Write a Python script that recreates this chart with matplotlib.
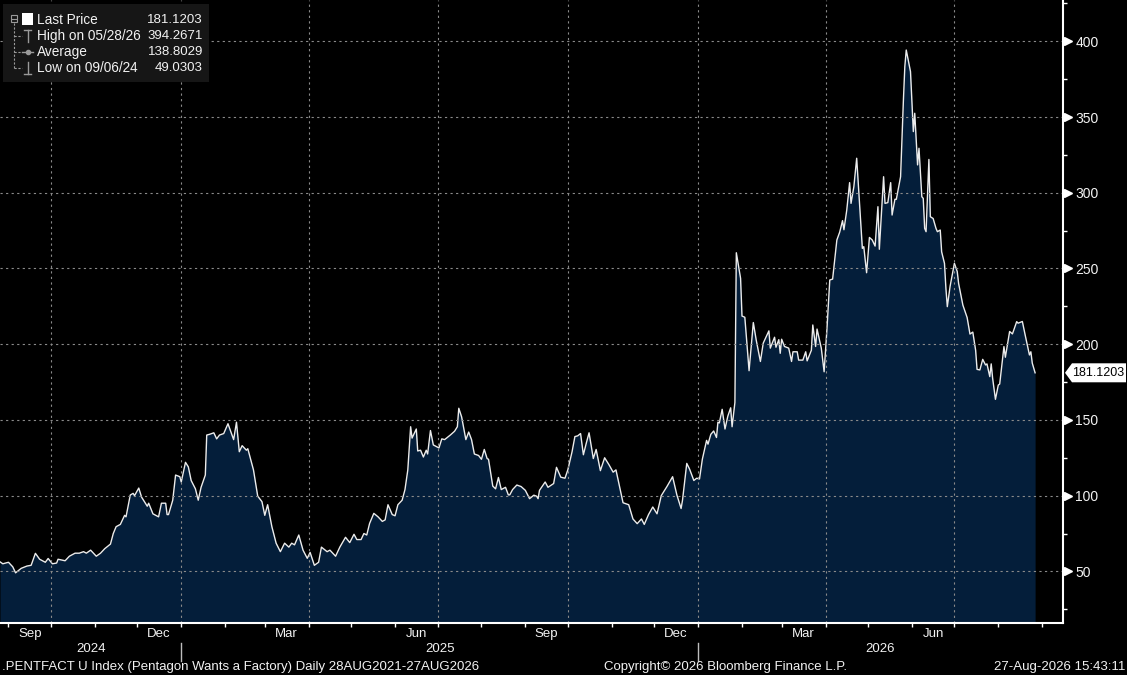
import matplotlib
matplotlib.use('Agg')
import matplotlib.pyplot as plt
import matplotlib.dates as mdates
import matplotlib.transforms as mtransforms
from matplotlib.lines import Line2D
from matplotlib.patches import Rectangle, Polygon
import numpy as np
import pandas as pd

plt.rcParams['font.family'] = ['Liberation Sans', 'DejaVu Sans']

# Data (days counted from 2024-08-26)
start = pd.Timestamp('2024-08-26')
day = [0, 2, 6, 9, 11, 15, 19, 22, 25, 28,
       32, 34, 37, 40, 41, 46, 49, 53, 56, 59,
       61, 64, 68, 71, 74, 78, 80, 82, 85, 88,
       89, 92, 94, 95, 98, 100, 104, 105, 108, 112,
       114, 117, 118, 119, 122, 124, 127, 128, 131, 133,
       135, 138, 140, 142, 145, 146, 148, 151, 153, 155,
       158, 161, 165, 167, 169, 171, 174, 175, 179, 182,
       185, 187, 189, 192, 195, 198, 201, 204, 206, 208,
       211, 214, 217, 219, 222, 225, 227, 231, 233, 237,
       240, 244, 247, 250, 252, 255, 257, 259, 261, 264,
       267, 270, 272, 274, 277, 279, 281, 284, 286, 288,
       290, 291, 294, 295, 297, 299, 301, 302, 304, 306,
       310, 312, 314, 318, 321, 323, 324, 326, 329, 331,
       333, 335, 338, 340, 342, 344, 345, 348, 350, 352,
       354, 357, 359, 360, 362, 365, 368, 371, 374, 377,
       379, 380, 381, 385, 387, 391, 393, 396, 399, 401,
       404, 406, 408, 410, 412, 414, 416, 419, 421, 424,
       427, 430, 433, 435, 438, 440, 444, 447, 450, 453,
       455, 458, 461, 464, 467, 471, 475, 478, 481, 482,
       485, 487, 490, 492, 494, 496, 499, 500, 502, 504,
       506, 507, 508, 510, 512, 514, 516, 517, 519, 520,
       523, 524, 526, 529, 532, 534, 537, 539, 543, 544,
       547, 548, 550, 551, 552, 554, 557, 559, 560, 563,
       564, 567, 569, 570, 573, 574, 576, 577, 580, 582,
       584, 586, 588, 591, 593, 595, 596, 598, 600, 601,
       603, 605, 607, 609, 610, 612, 614, 616, 618, 620,
       621, 624, 625, 627, 629, 630, 632, 633, 636, 638,
       639, 640, 643, 645, 646, 648, 649, 651, 652, 653,
       654, 656, 657, 659, 661, 662, 664, 665, 667, 668,
       669, 671, 674, 676, 677, 680, 683, 685, 687, 689,
       690, 692, 694, 696, 697, 699, 700, 701, 703, 705,
       706, 709, 710, 713, 715, 718, 719, 722, 724, 727,
       728, 729, 731]
price = [56.3, 55.0, 56.0, 53.0, 49.0303, 52.0, 53.5, 54.0, 61.9, 58.0,
         56.0, 58.5, 55.0, 55.5, 58.0, 57.0, 60.0, 62.0, 62.0, 63.0,
         62.0, 64.0, 60.0, 62.0, 65.0, 68.0, 75.0, 79.5, 81.0, 87.0,
         86.0, 100.4, 101.5, 100.0, 105.0, 99.0, 93.0, 95.0, 88.0, 86.0,
         95.0, 95.0, 87.5, 87.5, 97.0, 113.6, 112.5, 109.0, 122.0, 119.0,
         110.0, 104.5, 97.0, 105.5, 113.6, 140.0, 140.5, 141.5, 137.5, 140.0,
         141.0, 147.5, 137.0, 148.5, 129.0, 133.0, 130.0, 131.0, 117.0, 99.7,
         96.0, 87.0, 94.0, 79.5, 68.6, 63.0, 68.6, 66.0, 68.6, 67.5,
         74.0, 64.0, 58.6, 62.5, 54.0, 56.0, 66.0, 63.0, 64.0, 60.0,
         66.0, 72.5, 69.0, 74.5, 71.0, 71.0, 75.0, 74.0, 81.6, 88.3,
         86.0, 83.0, 84.0, 94.0, 87.5, 86.7, 94.0, 97.0, 104.0, 117.0,
         145.5, 138.0, 144.0, 129.5, 130.0, 125.5, 130.0, 127.5, 143.0, 133.5,
         131.5, 137.5, 137.0, 140.0, 142.5, 145.5, 157.7, 152.0, 137.0, 142.0,
         137.0, 127.5, 126.5, 124.0, 130.5, 124.5, 124.0, 106.3, 104.5, 112.0,
         104.0, 105.5, 100.5, 100.5, 104.0, 107.0, 106.0, 103.5, 98.0, 100.3,
         99.6, 98.0, 103.5, 109.0, 105.5, 108.0, 118.7, 112.2, 111.5, 117.0,
         129.0, 139.0, 139.5, 141.0, 127.0, 134.5, 141.5, 124.5, 130.5, 116.5,
         125.0, 120.5, 115.5, 117.0, 104.0, 95.3, 94.0, 84.6, 81.5, 84.6,
         81.0, 87.5, 92.5, 88.0, 100.0, 106.0, 112.5, 100.5, 91.5, 97.0,
         121.3, 117.5, 110.0, 111.5, 111.0, 124.0, 136.5, 134.0, 140.5, 142.7,
         138.4, 148.5, 148.0, 157.0, 144.0, 152.5, 158.0, 145.5, 161.5, 260.4,
         243.5, 218.6, 217.8, 182.5, 214.3, 203.0, 188.6, 200.7, 208.8, 197.4,
         204.6, 198.0, 203.0, 194.0, 203.3, 198.5, 197.4, 188.6, 195.0, 195.0,
         189.5, 189.5, 195.0, 189.0, 196.0, 212.7, 198.5, 210.0, 197.4, 181.8,
         210.0, 242.4, 243.0, 268.8, 274.0, 281.6, 275.6, 288.6, 306.7, 293.0,
         304.0, 322.8, 293.0, 263.3, 264.4, 247.2, 270.5, 268.8, 264.8, 290.8,
         262.7, 310.6, 293.0, 293.5, 306.7, 285.3, 295.7, 295.7, 310.6, 361.3,
         383.3, 394.2671, 380.0, 340.4, 352.5, 318.4, 329.4, 297.4, 296.3, 276.5,
         274.3, 322.0, 284.2, 283.0, 276.5, 274.3, 275.4, 261.0, 253.4, 237.0,
         224.8, 238.4, 253.4, 248.0, 240.0, 225.8, 217.6, 206.7, 208.0, 196.0,
         183.4, 183.0, 190.0, 186.3, 187.0, 178.6, 187.0, 177.5, 163.6, 173.0,
         173.7, 198.4, 191.4, 208.4, 206.8, 214.9, 213.9, 215.0, 206.0, 192.9,
         195.0, 187.5, 181.1203]

legend_rows = [('Last Price', '181.1203'),
               ('High on 05/28/26', '394.2671'),
               ('Average', '138.8029'),
               ('Low on 09/06/24', '49.0303')]
y_major = list(range(50, 401, 50))
y_minor = list(range(25, 426, 50))

dates = start + pd.to_timedelta(day, unit='D')
x_end = start + pd.Timedelta(days=750.7)

W, H = 1127, 675
fx = lambda px: px / W
fy = lambda py: 1 - py / H
txt = '#f2f2f2'

fig = plt.figure(figsize=(W / 100, H / 100), dpi=100, facecolor='black')
ax = fig.add_axes([0, 52 / H, 1063 / W, 623 / H])
ax.set_facecolor('black')

fill_col = '#041e3a'
ax.fill_between(dates, price, 0, color=fill_col, lw=0, zorder=2)
ax.plot(dates, price, color='#ececec', lw=1.0, zorder=3)

ax.set_ylim(15.9, 427.3)
ax.set_xlim(start, x_end)

for s in ['left', 'top']:
    ax.spines[s].set_visible(False)
for s in ['right', 'bottom']:
    ax.spines[s].set_color('white')
    ax.spines[s].set_linewidth(1.5)
    ax.spines[s].set_zorder(5)

grid_kw = dict(color='#8a8a8a', lw=0.8, ls=(0, (2, 3)), zorder=4)
for v in y_major:
    ax.axhline(v, **grid_kw)
for q in pd.date_range('2024-07-01', x_end, freq='QS'):
    if q > start:
        ax.axvline(q, **grid_kw)

# y axis on the right
ax.yaxis.tick_right()
ax.set_yticks(y_major)
ax.set_yticks(y_minor, minor=True)
ax.tick_params(axis='y', which='major', length=0, pad=9,
               labelcolor=txt, labelsize=10)
ax.tick_params(axis='y', which='minor', length=3, width=1, color='white',
               direction='out')
tri_tr = mtransforms.offset_copy(ax.get_yaxis_transform(), fig=fig, x=5, y=0,
                                 units='dots')
ax.plot(np.ones(len(y_major)), y_major, transform=tri_tr, ls='none',
        marker='>', ms=6, color='white', clip_on=False, zorder=6)

# x axis: month ticks, quarter month labels
ax.xaxis.set_major_locator(mdates.MonthLocator(bymonthday=1))
ax.xaxis.set_major_formatter(plt.NullFormatter())
ax.xaxis.set_minor_locator(mdates.MonthLocator(bymonth=[3, 6, 9, 12], bymonthday=16))
ax.xaxis.set_minor_formatter(mdates.DateFormatter('%b'))
ax.tick_params(axis='x', which='major', length=3, width=1, color='white',
               direction='out')
ax.tick_params(axis='x', which='minor', length=0, pad=3.5,
               labelcolor=txt, labelsize=9.5)

# year labels and separators
xb = mtransforms.blended_transform_factory(ax.transData, fig.transFigure)
for yr in [2024, 2025, 2026]:
    a = max(start, pd.Timestamp(f'{yr}-01-01'))
    b = min(x_end, pd.Timestamp(f'{yr + 1}-01-01'))
    mid = a + (b - a) / 2
    ax.text(mid, fy(649), str(yr), transform=xb, ha='center', va='center',
            color=txt, fontsize=9.5)
    if pd.Timestamp(f'{yr}-01-01') > start:
        fig.add_artist(Line2D([mdates.date2num(pd.Timestamp(f'{yr}-01-01'))] * 2,
                              [fy(643), fy(661)], transform=xb,
                              color='#bdbdbd', lw=1))

# footer
fig.text(fx(2), fy(667), '.PENTFACT U Index (Pentagon Wants a Factory) Daily 28AUG2021-27AUG2026',
         color=txt, fontsize=9.5, ha='left', va='center')
fig.text(fx(725), fy(667), 'Copyright\u00a9 2026 Bloomberg Finance L.P.',
         color=txt, fontsize=9.5, ha='center', va='center')
fig.text(fx(1125), fy(667), '27-Aug-2026 15:43:11',
         color=txt, fontsize=9.5, ha='right', va='center')

# last price tag
fig.canvas.draw()
yp = ax.transData.transform((mdates.date2num(dates[-1]), price[-1]))[1]
xp = ax.bbox.x1
tag = Polygon([(xp + 2, yp), (xp + 9, yp + 9.5), (W - 1, yp + 9.5),
               (W - 1, yp - 9.5), (xp + 9, yp - 9.5)], closed=True,
              facecolor='white', edgecolor='none',
              transform=mtransforms.IdentityTransform())
fig.add_artist(tag)
fig.text((xp + 9.5) / W, yp / H, f'{price[-1]:.4f}', color='black',
         fontsize=9, ha='left', va='center')

# legend box
fig.add_artist(Rectangle((fx(3), fy(82)), fx(206), 78 / H, transform=fig.transFigure,
                         facecolor='#161616', edgecolor='none'))
gray = '#9a9a9a'
row_y = [20, 36, 52, 68]
for (lab, val), ry in zip(legend_rows, row_y):
    fig.text(fx(37), fy(ry), lab, color=txt, fontsize=9.8, ha='left', va='center')
    fig.text(fx(203), fy(ry), val, color=txt, fontsize=9.5, ha='right', va='center')
# tree icons
fig.add_artist(Rectangle((fx(11), fy(22)), 6 / W, 7 / H, transform=fig.transFigure,
                         facecolor='none', edgecolor=gray, lw=0.8))
fig.add_artist(Line2D([fx(12), fx(16)], [fy(18.5)] * 2, transform=fig.transFigure,
                      color=gray, lw=0.8))
fig.add_artist(Line2D([fx(14), fx(14)], [fy(23), fy(68)], transform=fig.transFigure,
                      color=gray, lw=0.8, ls=(0, (2, 1.5))))
for ry in row_y[1:]:
    fig.add_artist(Line2D([fx(14), fx(22)], [fy(ry)] * 2, transform=fig.transFigure,
                          color=gray, lw=0.8, ls=(0, (2, 1.5))))
fig.add_artist(Rectangle((fx(22), fy(25)), 11 / W, 12 / H, transform=fig.transFigure,
                         facecolor='white', edgecolor='none'))
# high icon
fig.add_artist(Line2D([fx(27.5)] * 2, [fy(30), fy(42)], transform=fig.transFigure, color=gray, lw=1))
fig.add_artist(Line2D([fx(24), fx(31)], [fy(30)] * 2, transform=fig.transFigure, color=gray, lw=1))
# average icon
fig.add_artist(Line2D([fx(22), fx(33)], [fy(52)] * 2, transform=fig.transFigure, color=gray, lw=1))
fig.add_artist(Line2D([fx(27.5)], [fy(52)], transform=fig.transFigure, color=gray,
                      marker='o', ms=3, ls='none'))
# low icon
fig.add_artist(Line2D([fx(27.5)] * 2, [fy(62), fy(74)], transform=fig.transFigure, color=gray, lw=1))
fig.add_artist(Line2D([fx(24), fx(31)], [fy(74)] * 2, transform=fig.transFigure, color=gray, lw=1))

fig.savefig('out.png', dpi=100, facecolor='black')
